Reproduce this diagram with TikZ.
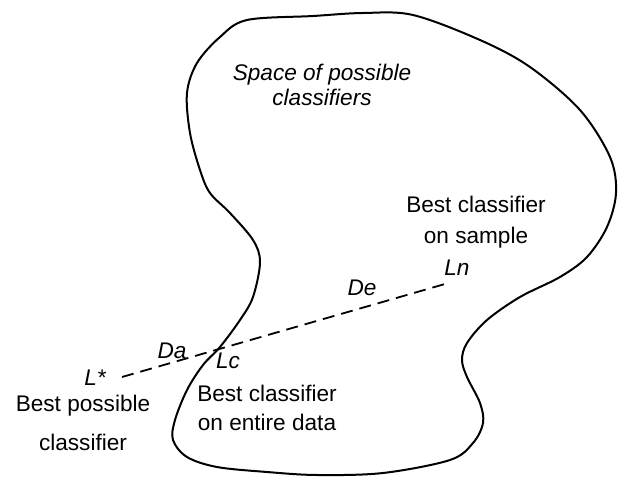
\documentclass[tikz,border=0pt]{standalone}
\usepackage{fontspec}
\setmainfont{Liberation Sans}
\begin{document}
\begin{tikzpicture}[
    x=0.5pt, y=-0.5pt,
    every node/.style={font=\fontsize{11.3}{15}\selectfont, inner sep=0pt},
    lbl/.style={align=center},
    sym/.style={font=\fontsize{11.3}{15}\selectfont\itshape},
    region/.style={line width=1pt, line join=round},
    gapline/.style={dash pattern=on 6pt off 3.5pt, line width=0.9pt}
]
\useasboundingbox (0,0) rectangle (618,483);

% Raum der Klassifikatoren
\draw[region] plot[smooth cycle, tension=0.55] coordinates {
    (247,20) (313,16) (363,13) (413,15) (480,40) (530,67) (580,110)
    (610,157) (616,193) (607,227) (587,257) (560,277) (520,297)
    (487,320) (467,343) (462,360) (467,377) (480,403) (483,423)
    (473,443) (450,460) (383,473) (317,475) (267,472) (217,467)
    (187,457) (173,440) (175,420) (187,390) (203,365) (220,347)
    (240,320) (253,297) (260,262) (253,240) (230,213) (210,193)
    (200,170) (190,133) (187,93) (197,63) (220,37)};

% Beschriftungen
\node[lbl, font=\fontsize{11.3}{12.5}\selectfont\itshape] (space) at (322,85)
    {Space of possible\\classifiers};
\node[lbl, font=\fontsize{11.3}{15.5}\selectfont] (sample) at (476,222)
    {Best classifier\\on sample};
\node[lbl, font=\fontsize{11.3}{14.5}\selectfont] (entire) at (267,408)
    {Best classifier\\on entire data};
\node[lbl, font=\fontsize{11.3}{19.5}\selectfont] (best) at (83,423)
    {Best possible\\classifier};

% Punkte
\node[sym] (ln) at (457,268) {Ln};
\node[sym] (de) at (362,288) {De};
\node[sym] (da) at (172,351) {Da};
\node[sym] (lc) at (228,361) {Lc};
\node[sym] (lstar) at (95,378) {L*};

% Verbindung L* -- Ln
\coordinate (pstar) at (122,377);
\coordinate (pn) at (445,284);
\draw[gapline] (pstar) -- (pn);

\end{tikzpicture}
\end{document}
